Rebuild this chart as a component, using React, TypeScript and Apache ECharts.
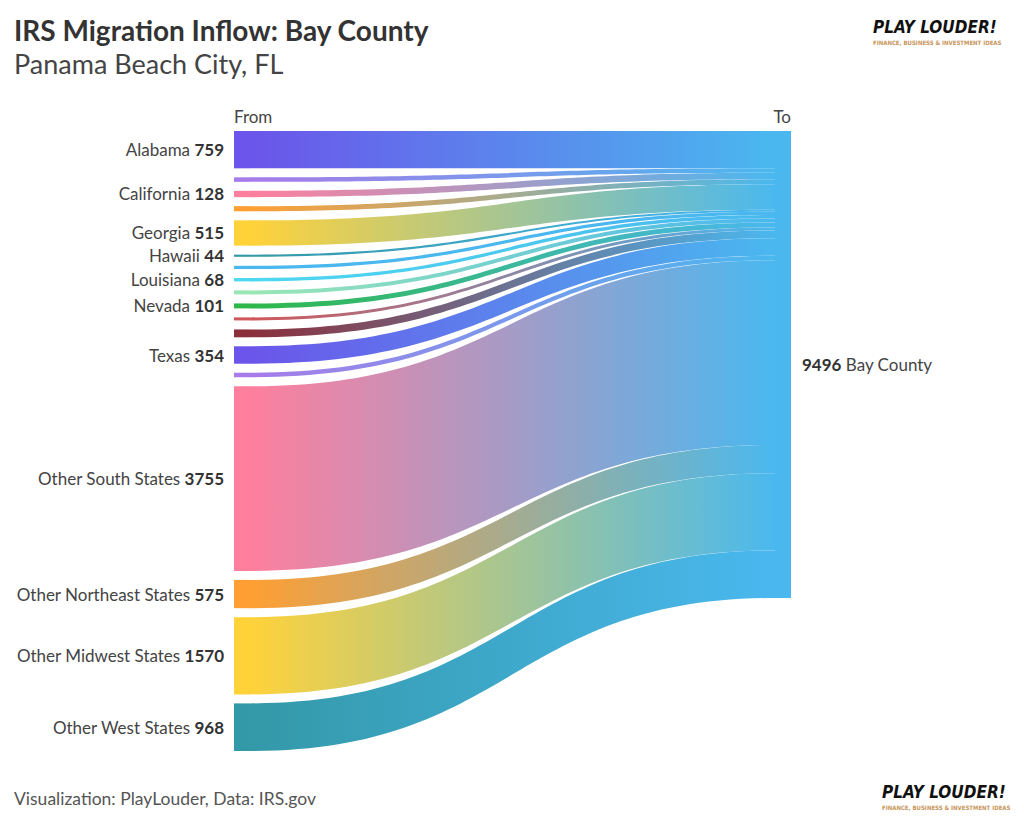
import React, { useEffect, useRef } from "react";
import * as echarts from "echarts";

const sourceNames = [
  "Alabama", "State B", "California", "State D", "Georgia", "Hawaii", "State G",
  "Louisiana", "State I", "Nevada", "State K", "State L", "Texas", "State N",
  "Other South States", "Other Northeast States", "Other Midwest States", "Other West States",
];
const sourceValues = [759, 92, 128, 105, 515, 44, 66, 68, 82, 101, 62, 160, 354, 92, 3755, 575, 1570, 968];
const showLabel = [true, false, true, false, true, true, false, true, false, true, false, false, true, false, true, true, true, true];
const targetName = "Bay County";
const palette = [
  "#6b55ea", "#a77be9", "#ff7f9d", "#ff9f33", "#ffd23a", "#3399a8",
  "#4ab8ef", "#4dd8f0", "#9ae6b4", "#2eb84a", "#d0575a", "#8b2f3a",
];

const FONT = "Lato, 'Noto Sans', sans-serif";
const LOGO = "'DejaVu Sans Condensed', sans-serif";

export default function App() {
  const ref = useRef<HTMLDivElement>(null);
  useEffect(() => {
    document.body.style.margin = "0";
    const chart = echarts.init(ref.current!, null, { renderer: "svg" });
    const nodes: any[] = sourceNames.map((n, i) => ({
      name: n,
      itemStyle: { color: palette[i % palette.length] },
      label: showLabel[i]
        ? { show: true, position: "left", distance: 10 }
        : { show: false },
    }));
    nodes.push({
      name: targetName,
      itemStyle: { color: palette[sourceNames.length % palette.length] },
      label: { show: true, position: "right", distance: 11 },
    });
    const links = sourceNames.map((n, i) => ({ source: n, target: targetName, value: sourceValues[i] }));
    chart.setOption({
      animation: false,
      backgroundColor: "#ffffff",
      textStyle: { fontFamily: FONT },
      graphic: [
        { type: "text", left: 14, top: 16, style: { text: "IRS Migration Inflow: Bay County", font: `bold 28px ${FONT}`, fill: "#333" } },
        { type: "text", left: 14, top: 50, style: { text: "Panama Beach City, FL", font: `27px ${FONT}`, fill: "#444" } },
        { type: "text", left: 14, top: 789, style: { text: "Visualization: PlayLouder, Data: IRS.gov", font: `17.5px ${FONT}`, fill: "#555" } },
        { type: "text", x: 234, y: 116, style: { text: "From", font: `17px ${FONT}`, fill: "#444", verticalAlign: "middle", align: "left" } },
        { type: "text", x: 791, y: 116, style: { text: "To", font: `17px ${FONT}`, fill: "#444", verticalAlign: "middle", align: "right" } },
        { type: "text", x: 873, y: 27, style: { text: "PLAY LOUDER!", font: `italic bold 17px ${LOGO}`, fill: "#111", verticalAlign: "middle" } },
        { type: "text", x: 873, y: 42, style: { text: "FINANCE, BUSINESS & INVESTMENT IDEAS", font: `bold 6px ${LOGO}`, fill: "#c8955a", verticalAlign: "middle" } },
        { type: "text", x: 882, y: 792, style: { text: "PLAY LOUDER!", font: `italic bold 17px ${LOGO}`, fill: "#111", verticalAlign: "middle" } },
        { type: "text", x: 882, y: 807, style: { text: "FINANCE, BUSINESS & INVESTMENT IDEAS", font: `bold 6px ${LOGO}`, fill: "#c8955a", verticalAlign: "middle" } },
      ],
      series: [
        {
          type: "sankey",
          left: 234,
          right: 233,
          top: 131,
          bottom: 77,
          nodeWidth: 16,
          nodeGap: 9,
          layoutIterations: 0,
          draggable: false,
          emphasis: { disabled: true },
          data: nodes,
          links,
          lineStyle: { color: "gradient", opacity: 1, curveness: 0.5 },
          itemStyle: { borderWidth: 0 },
          label: {
            fontFamily: FONT,
            fontSize: 17,
            color: "#444",
            formatter: (p: any) =>
              p.name === targetName
                ? `{b|${p.value}} {n|${p.name}}`
                : `{n|${p.name}} {b|${p.value}}`,
            rich: {
              n: { fontFamily: FONT, fontSize: 17, color: "#444" },
              b: { fontFamily: FONT, fontSize: 17, color: "#333", fontWeight: "bold" },
            },
          },
        },
      ],
    });
    return () => chart.dispose();
  }, []);
  return <div ref={ref} style={{ width: 1024, height: 828 }} />;
}
